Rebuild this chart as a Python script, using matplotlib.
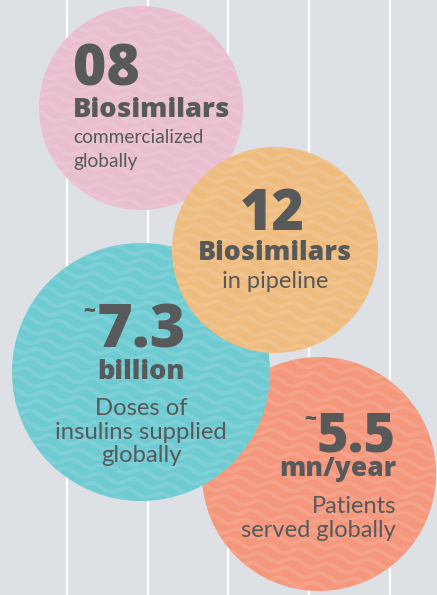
import numpy as np
import matplotlib
matplotlib.use("Agg")
import matplotlib.pyplot as plt
from matplotlib.patches import Circle
from matplotlib import font_manager as fm

# ---- data ----
numbers = ["08", "12", "7.3", "5.5"]
approx = [False, False, True, True]
units = ["Biosimilars", "Biosimilars", "billion", "mn/year"]
descriptions = [["commercialized", "globally"],
                ["in pipeline"],
                ["Doses of", "insulins supplied", "globally"],
                ["Patients", "served globally"]]

# ---- layout / style ----
W, H = 437, 595
bg = "#dde1e6"
txt = "#58595b"
colors = ["#e9bfd0", "#efbc80", "#6fcbd2", "#f4977c"]
centers = [(141, 108), (275, 250), (141, 372), (319, 474)]
radii = [102, 103, 129, 117]
circle_z = [2, 5, 4, 3]
align = ["left", "center", "center", "right"]
anchor_x = [73, 275, 141, 396]
num_dx = [0, -3, 0, 0]
num_base = [86, 230, 348, 452]
num_size = [41, 40, 44, 39]
unit_base = [117, 260, 379, 476]
unit_size = [19.6, 19.3, 19.5, 19]
desc_base = [[143, 167], [288], [415, 439, 462], [513, 537]]
desc_size = [13.8, 17, 17.2, 17]
vlines = [67, 148, 228, 309, 390]

files = {f.fname.split('/')[-1]: f.fname for f in fm.fontManager.ttflist}

def fprop(fname, size, fallback_weight):
    if fname in files:
        return fm.FontProperties(fname=files[fname], size=size)
    return fm.FontProperties(family="DejaVu Sans", weight=fallback_weight, size=size)

fig = plt.figure(figsize=(W / 100, H / 100), dpi=100)
fig.patch.set_facecolor(bg)
ax = fig.add_axes([0, 0, 1, 1])
ax.set_xlim(0, W)
ax.set_ylim(H, 0)
ax.axis("off")

for x in vlines:
    ax.plot([x, x], [0, H], color="white", lw=1.6, zorder=1)

def lighten(c, f):
    r = np.array(matplotlib.colors.to_rgb(c))
    return tuple(r + (1 - r) * f)

for i in range(4):
    cx, cy = centers[i]
    r = radii[i]
    zc = circle_z[i]
    circ = Circle((cx, cy), r, facecolor=colors[i], edgecolor="none", zorder=zc)
    ax.add_patch(circ)
    xs = np.linspace(cx - r, cx + r, 300)
    lc = lighten(colors[i], 0.13)
    for k, yy in enumerate(np.arange(cy - r - 12, cy + r + 12, 10.5)):
        ys = yy + 3.2 * np.sin((xs + k * 7) / 5.5) + 0.15 * (xs - cx)
        ln, = ax.plot(xs, ys, color=lc, lw=2.8, alpha=0.8, zorder=zc + 0.5,
                      solid_capstyle="round")
        ln.set_clip_path(circ)

    z = 10
    ha = align[i]
    t = ax.text(anchor_x[i] + num_dx[i], num_base[i], numbers[i],
                fontproperties=fprop("OpenSans-ExtraBold.ttf", num_size[i], "bold"),
                color=txt, ha=ha, va="baseline", zorder=z)
    if approx[i]:
        fig.canvas.draw()
        bb = t.get_window_extent().transformed(ax.transData.inverted())
        x0 = min(bb.x0, bb.x1)
        ax.text(x0 - 1, num_base[i] - num_size[i] * 0.8, "~",
                fontproperties=fprop("OpenSans-ExtraBold.ttf", 15, "bold"),
                color=txt, ha="right", va="center", zorder=z)
    ax.text(anchor_x[i], unit_base[i], units[i],
            fontproperties=fprop("OpenSans-ExtraBold.ttf", unit_size[i], "bold"),
            color=txt, ha=ha, va="baseline", zorder=z)
    for line, yb in zip(descriptions[i], desc_base[i]):
        ax.text(anchor_x[i], yb, line,
                fontproperties=fprop("Lato-Regular.ttf", desc_size[i], "normal"),
                color=txt, ha=ha, va="baseline", zorder=z)

fig.savefig("out.png", dpi=100, facecolor=bg)
